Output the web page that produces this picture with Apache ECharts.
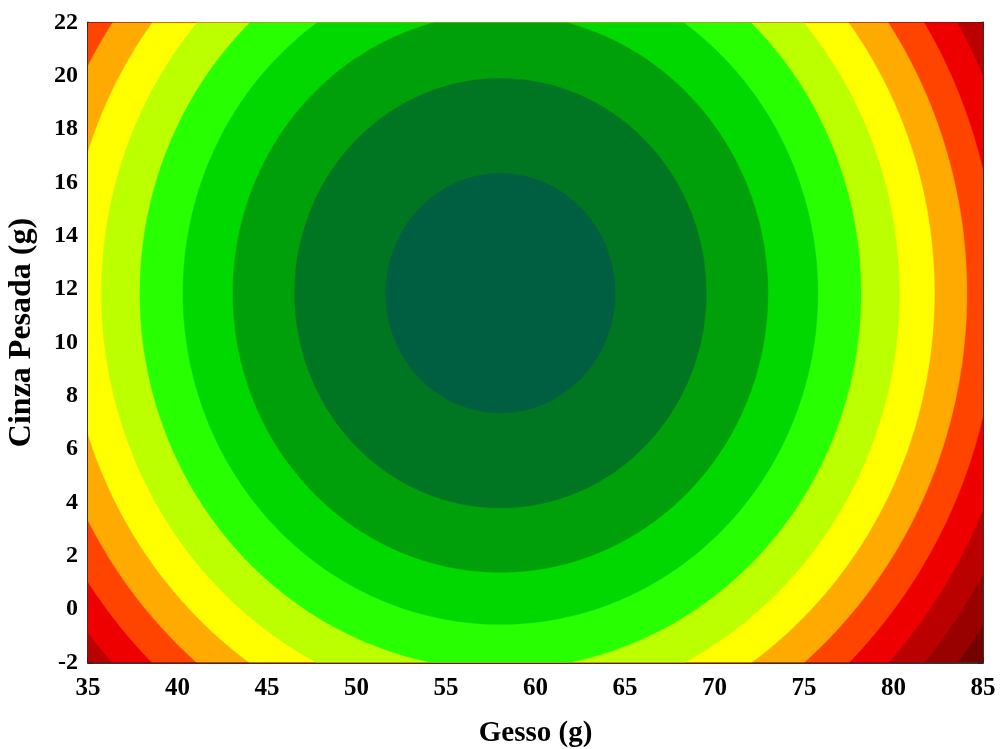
<!DOCTYPE html>
<html>
<head>
<meta charset="utf-8">
<script src="https://cdn.jsdelivr.net/npm/echarts@6/dist/echarts.min.js"></script>
<style>
  html, body { margin: 0; padding: 0; background: #ffffff; }
  #chart { width: 1000px; height: 749px; }
</style>
</head>
<body>
<div id="chart"></div>
<script>
// Axis ticks
const GESSO_TICKS = [35, 40, 45, 50, 55, 60, 65, 70, 75, 80, 85];
const CINZA_TICKS = [-2, 0, 2, 4, 6, 8, 10, 12, 14, 16, 18, 20, 22];

// Fitted second-order response surface:
// z = Z_MIN + A·(Gesso − X0)² + B·(Cinza − Y0)²
const X0 = 58.04;
const Y0 = 11.85;
const Z_MIN = 0;
const A = 0.010973;
const B = 0.022367;

// Contour levels (band boundaries), innermost first
const LEVELS = [0.45, 1.45, 2.45, 3.45, 4.45, 5.45, 6.45, 7.45, 8.45, 9.45, 10.45, 11.45];

// Fill of each band, innermost (lowest z) to outermost (highest z)
const BAND_COLORS = [
  '#005f40', '#007522', '#00a00a', '#00d800', '#28ff00', '#bcff00',
  '#ffff00', '#ffaa00', '#ff4400', '#ee0000', '#bb0000', '#990000', '#740000'
];

// One item per band, painted from the outermost band inwards
const bandItems = BAND_COLORS.map((c, i) => [X0, Y0, i]).reverse();

function renderBand(params, api) {
  const band = api.value(2);
  const cs = params.coordSys;
  const clip = { type: 'rect', shape: { x: cs.x, y: cs.y, width: cs.width, height: cs.height } };
  const fill = BAND_COLORS[band];
  if (band >= LEVELS.length) {
    return {
      type: 'rect',
      shape: { x: cs.x, y: cs.y, width: cs.width, height: cs.height },
      style: { fill: fill },
      z2: 0
    };
  }
  const dz = LEVELS[band] - Z_MIN;
  const rx = Math.sqrt(dz / A);
  const ry = Math.sqrt(dz / B);
  const pts = [];
  const n = 360;
  for (let i = 0; i < n; i++) {
    const t = (i / n) * Math.PI * 2;
    pts.push(api.coord([api.value(0) + rx * Math.cos(t), api.value(1) + ry * Math.sin(t)]));
  }
  return {
    type: 'polygon',
    shape: { points: pts },
    style: { fill: fill, stroke: fill, lineWidth: 0.5 },
    clipPath: clip,
    z2: LEVELS.length - band
  };
}

const labelFont = {
  fontFamily: '"Liberation Serif", "Times New Roman", serif',
  fontWeight: 'bold',
  fontSize: 24,
  color: '#000'
};
const lineStyle = { color: '#333', width: 2 };
const tickStyle = { inside: true, length: 5, lineStyle: { color: '#222', width: 1.5 } };

const xBase = {
  type: 'value',
  min: GESSO_TICKS[0],
  max: GESSO_TICKS[GESSO_TICKS.length - 1],
  interval: GESSO_TICKS[1] - GESSO_TICKS[0],
  splitLine: { show: false },
  axisLine: { show: true, onZero: false, lineStyle: lineStyle },
  axisTick: tickStyle
};
const yBase = {
  type: 'value',
  min: CINZA_TICKS[0],
  max: CINZA_TICKS[CINZA_TICKS.length - 1],
  interval: CINZA_TICKS[1] - CINZA_TICKS[0],
  splitLine: { show: false },
  axisLine: { show: true, onZero: false, lineStyle: lineStyle },
  axisTick: tickStyle
};

const chart = echarts.init(document.getElementById('chart'), null, { renderer: 'canvas' });
chart.setOption({
  animation: false,
  backgroundColor: '#ffffff',
  grid: { left: 88, right: 17, top: 22.5, bottom: 86.5, containLabel: false, outerBoundsMode: 'none' },
  xAxis: [
    Object.assign({}, xBase, {
      position: 'bottom',
      name: 'Gesso (g)',
      nameLocation: 'middle',
      nameGap: 57,
      nameTextStyle: Object.assign({}, labelFont, { fontSize: 29 }),
      axisLabel: Object.assign({}, labelFont, { fontSize: 25, margin: 14 })
    }),
    Object.assign({}, xBase, { position: 'top', axisLabel: { show: false } })
  ],
  yAxis: [
    Object.assign({}, yBase, {
      position: 'left',
      name: 'Cinza Pesada (g)',
      nameLocation: 'middle',
      nameRotate: 90,
      nameGap: 50,
      nameTextStyle: Object.assign({}, labelFont, { fontSize: 32, padding: [0, 0, 0, 20] }),
      axisLabel: Object.assign({}, labelFont, { margin: 10 })
    }),
    Object.assign({}, yBase, { position: 'right', axisLabel: { show: false } })
  ],
  series: [{
    type: 'custom',
    coordinateSystem: 'cartesian2d',
    xAxisIndex: 0,
    yAxisIndex: 0,
    clip: true,
    silent: true,
    encode: { x: 0, y: 1 },
    renderItem: renderBand,
    data: bandItems
  }]
});
</script>
</body>
</html>
